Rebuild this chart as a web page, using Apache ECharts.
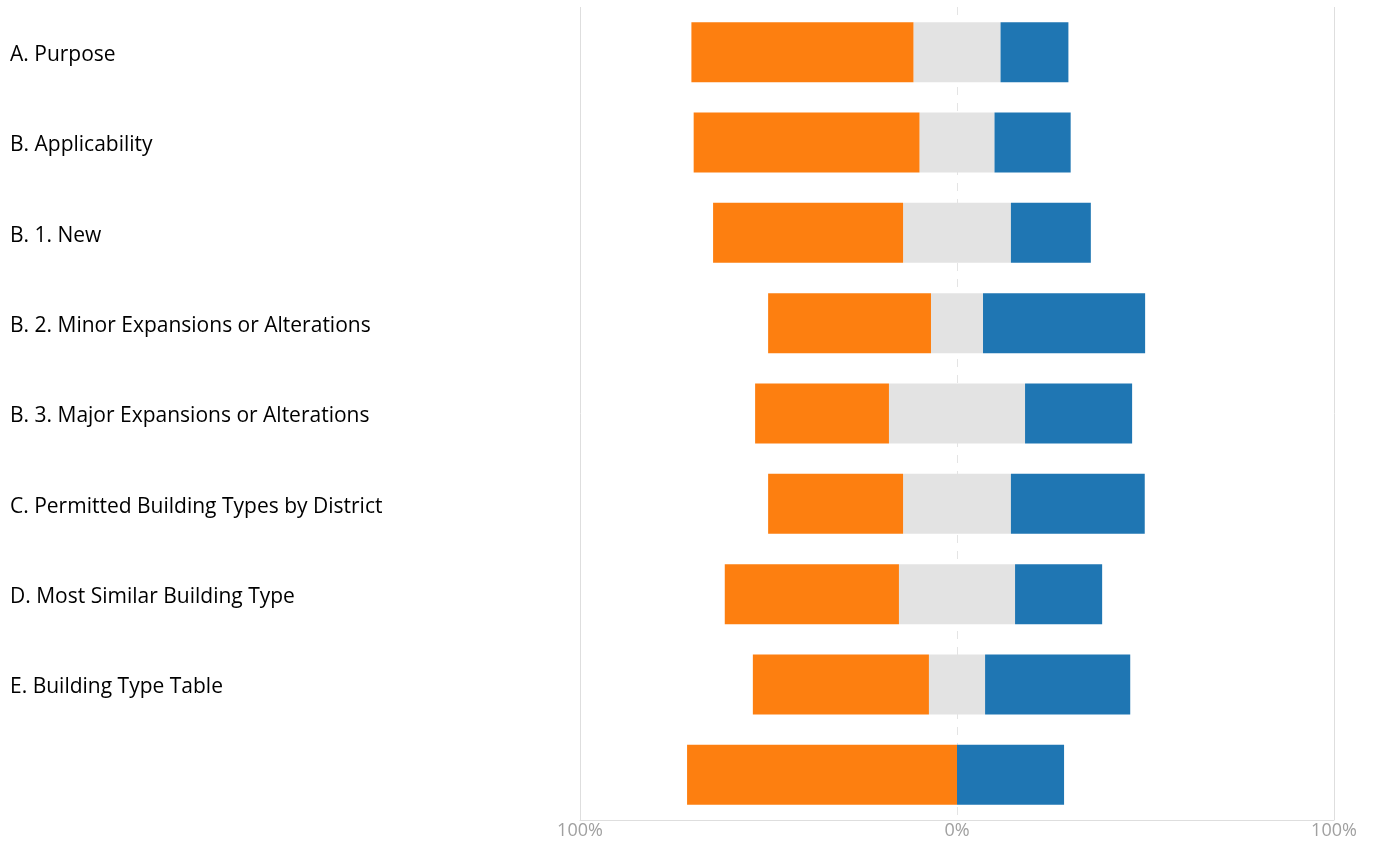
<!DOCTYPE html>
<html>
<head>
<meta charset="utf-8">
<script src="https://cdn.jsdelivr.net/npm/echarts@6/dist/echarts.min.js"></script>
<style>
html,body{margin:0;padding:0;background:#fff;}
#chart{width:1378px;height:844px;}
</style>
</head>
<body>
<div id="chart"></div>
<script>
const categories = [
  'A. Purpose',
  'B. Applicability',
  'B. 1. New',
  'B. 2. Minor Expansions or Alterations',
  'B. 3. Major Expansions or Alterations',
  'C. Permitted Building Types by District',
  'D. Most Similar Building Type',
  'E. Building Type Table',
  ''
];
const disagree = [58.9, 59.9, 50.4, 43.2, 35.5, 35.8, 46.2, 46.7, 71.6];
const neutral  = [23.1, 19.9, 28.6, 13.8, 36.1, 28.6, 30.8, 14.9, 0];
const agree    = [18.0, 20.2, 21.2, 43.0, 28.4, 35.5, 23.1, 38.5, 28.4];
const xTicks = [-100, 0, 100];

const neutralNeg = neutral.map(v => -v / 2);
const neutralPos = neutral.map(v => v / 2);
const disagreeNeg = disagree.map(v => -v);

const FONT = '"Open Sans", "Noto Sans", sans-serif';
const chart = echarts.init(document.getElementById('chart'), null, {renderer: 'canvas'});
const barW = 60;
chart.setOption({
  animation: false,
  grid: {left: 580, right: 44, top: 7, bottom: 24, containLabel: false},
  xAxis: [{
    type: 'value', min: xTicks[0], max: xTicks[2], interval: 100,
    axisLine: {show: true, lineStyle: {color: '#dedede', width: 1}},
    axisTick: {show: false},
    axisLabel: {
      color: '#a0a0a0', fontSize: 18, fontFamily: FONT, margin: 2,
      formatter: v => Math.abs(v) + '%'
    },
    splitLine: {show: true, lineStyle: {color: ['#dedede', 'rgba(0,0,0,0)', '#dedede'], width: 1, type: 'solid'}}
  }, {
    type: 'value', min: xTicks[0], max: xTicks[2], interval: 100, position: 'bottom',
    axisLine: {show: false}, axisTick: {show: false}, axisLabel: {show: false},
    splitLine: {show: true, lineStyle: {color: ['rgba(0,0,0,0)', '#e4e4e4', 'rgba(0,0,0,0)'], width: 1, type: [8, 8]}}
  }],
  yAxis: {
    type: 'category', data: categories, inverse: true,
    axisLine: {show: false}, axisTick: {show: false},
    axisLabel: {color: '#000', fontSize: 21, fontFamily: FONT, align: 'left', margin: 570,
      verticalAlign: 'top', lineHeight: 6}
  },
  series: [
    {name: 'NeutralNeg', type: 'bar', stack: 'total', data: neutralNeg, barWidth: barW, itemStyle: {color: '#e3e3e3'}},
    {name: 'Disagree', type: 'bar', stack: 'total', data: disagreeNeg, barWidth: barW, itemStyle: {color: '#fd7f10'}},
    {name: 'NeutralPos', type: 'bar', stack: 'total', data: neutralPos, barWidth: barW, itemStyle: {color: '#e3e3e3'}},
    {name: 'Agree', type: 'bar', stack: 'total', data: agree, barWidth: barW, itemStyle: {color: '#1f76b3'}}
  ]
});
</script>
</body>
</html>
